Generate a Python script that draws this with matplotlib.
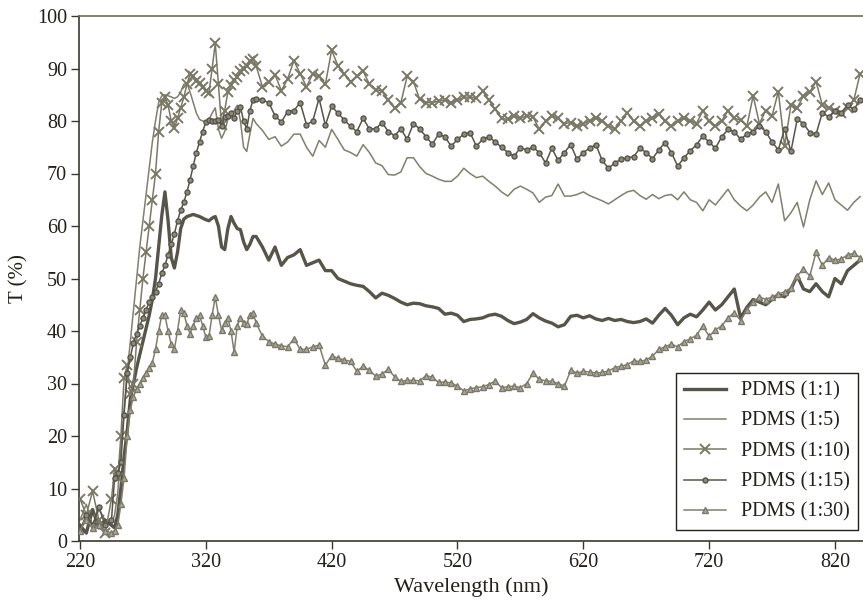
import numpy as np
import matplotlib
matplotlib.use("Agg")
import matplotlib.pyplot as plt

plt.rcParams['font.family'] = ['Liberation Serif', 'DejaVu Serif']

# wavelength grid (nm)
wavelength = np.concatenate([np.arange(220, 245, 5.0),
                             np.arange(245, 360, 2.5),
                             np.arange(360, 845, 5.0)])

t_1_1 = [3, 1.5, 6, 2.5, 4,
         3, 2.5, 5, 10, 16, 21, 27, 30, 33, 35.5,
         38, 40.5, 43, 46, 50, 56, 62, 66.5, 61, 54,
         52, 55, 59.5, 61.3, 61.8, 62, 62.2, 62, 61.8, 61.5,
         61.2, 61, 61.5, 61.8, 60, 56, 55.5, 59.5, 61.8, 60.5,
         59.5, 59.3, 57, 55.5, 56.5, 58,
         58, 56, 53.5, 56, 52.5, 54, 54.5, 55.5, 52.5, 53,
         53.5, 51.5, 51.5, 50, 49.5, 49, 48.7, 48.5, 47.5, 46.3,
         47.2, 46.8, 46.2, 45.5, 45, 45.3, 45.2, 44.8, 44.6, 44.3,
         43.2, 43.4, 43, 41.8, 42.2, 42.3, 42.5, 43, 43.2, 42.8,
         42, 41.4, 41.7, 42.2, 43.3, 42.5, 41.9, 41.5, 40.8, 41.2,
         42.8, 43, 42.5, 42.9, 42.3, 42, 42.4, 42, 42.2, 41.8,
         41.6, 41.8, 42.3, 41.5, 43, 44.3, 43, 41.2, 42.5, 43.2,
         42.7, 44, 45.5, 44, 45, 46.5, 48, 42.5, 44.5, 46,
         45.5, 45, 46, 47, 46.5, 48, 50.5, 48, 47.5, 49,
         47.5, 46.5, 50, 49, 51.5, 52.5, 53.5]

t_1_5 = [4, 7, 3, 6, 4,
         3, 5, 9, 18, 25, 32, 38, 44, 50, 56,
         61, 66, 71, 76, 80, 83.5, 84.8, 85, 84.8, 84.6,
         84.3, 84.6, 85.5, 87, 87.2, 85.5, 83.5, 81.5, 80.3, 80,
         79.8, 80.3, 81.5, 82.5, 78.5, 76.7, 78, 80.3, 80.8, 82,
         83, 80, 75, 74.2, 77.5, 80.5,
         79.5, 78.2, 76.5, 77, 75.2, 76, 77.5, 77.5, 75, 73.3,
         76.3, 75, 78.4, 76.5, 74.5, 74, 73.3, 75.5, 74, 72,
         71.5, 69.8, 69.7, 70.3, 73, 73, 71.3, 70, 69.5, 68.9,
         68.5, 68.5, 69.5, 71, 70, 69.2, 69.5, 68.5, 67.6, 66.5,
         65.7, 67, 67.6, 67, 66.3, 64.5, 65.5, 65.8, 68, 65.7,
         65.7, 66, 66.5, 65.8, 65.3, 64.8, 64.2, 65, 65.8, 66.5,
         66.8, 65.8, 65.1, 66, 65.2, 65.8, 66, 65, 66.5, 65,
         64.5, 62.9, 65, 64, 65.5, 67, 65, 63.8, 62.9, 64,
         65.5, 66.5, 64.5, 68, 61, 62.5, 64.5, 59.8, 65, 68.6,
         66, 68.2, 65, 64, 63, 64.5, 65.6]

t_1_10 = [8, 5, 9.5, 4, 1.5,
          8, 13.8, 12, 20, 31, 33.5, 28, 30, 38, 44,
          50, 55, 60, 65, 70, 78, 83.5, 84.5, 83, 80,
          78.7, 80.5, 82.5, 84.5, 87, 89, 88.5, 87.7, 87.3, 86.5,
          85.7, 85.4, 90, 94.8, 87, 79.2, 82, 85.5, 86.8, 87.8,
          88.3, 89.5, 90, 90.5, 91.5, 91.8,
          90.5, 86.5, 87.5, 88.8, 85.8, 88, 91.5, 89, 86.5, 89,
          88.5, 87, 93.5, 90.5, 89, 87.5, 88.5, 89.5, 87, 86,
          85.7, 84, 82.5, 83.5, 88.5, 87.5, 84.1, 83.5, 83.5, 83.8,
          84, 83.5, 84, 84.5, 84.6, 84.3, 85.7, 84, 82.2, 80.5,
          80.3, 81, 80.5, 81, 80.8, 78.4, 80, 81, 80.5, 79.5,
          79.7, 79, 79.5, 80, 80.6, 80, 79, 78.5, 80, 81.6,
          80, 79, 80, 80.5, 81.3, 80, 79, 80, 80.5, 80,
          79.5, 82, 80, 79, 80, 82, 80.5, 80.2, 79, 84.8,
          79.5, 82, 81, 85.6, 75.2, 83, 82.5, 84.8, 85.5, 87.5,
          83, 82.5, 82, 81.5, 82.5, 84, 89]

t_1_15 = [2, 5, 3, 6.5, 3,
          4, 12, 13, 15, 24, 32, 35, 37.8, 39.5, 41,
          42.5, 44, 45.5, 46.5, 47.5, 49, 51, 52.5, 54.5, 56.5,
          58.5, 61, 63, 64.5, 66.5, 68.8, 71.5, 74, 76, 78,
          79.8, 80.2, 80, 80, 80.2, 79, 80.8, 81, 81.5, 80.5,
          82, 82.7, 80, 78.5, 82, 84,
          84.2, 84, 83.5, 81, 79.8, 81.8, 82, 83.5, 79.3, 80,
          84.3, 79.2, 82.8, 81.5, 80.2, 79, 78, 80.5, 78.5, 78.5,
          79.7, 78, 77.2, 78.5, 76.5, 79.5, 78.5, 77, 75.6, 77.5,
          77, 75.2, 76.5, 77.5, 77.8, 75.2, 76.5, 77, 76, 75,
          74, 73.3, 74.9, 74.5, 75, 74, 72, 74.8, 72.5, 74,
          75.5, 72.7, 74, 74.8, 75.5, 72.5, 71, 72, 72.7, 73,
          73.2, 74.8, 74, 72.8, 74.5, 75.9, 74, 71.4, 73, 74.3,
          75.5, 77.1, 76, 74.8, 77, 78.4, 78, 76.5, 77.5, 78,
          79, 78, 76, 74.5, 78.5, 74.2, 80.3, 79.5, 77.8, 77.5,
          81.6, 80.8, 82, 81.6, 83, 82.2, 84]

t_1_30 = [2, 4, 2.5, 3, 2,
          1.5, 2, 3, 7, 12, 20, 25, 27.5, 29, 30,
          31, 32, 33, 34, 36.5, 40, 43, 43, 40, 37.5,
          36.5, 40, 44, 43.5, 41, 39.5, 41, 42.5, 43, 41,
          38.8, 39, 43, 46.5, 43, 40.2, 41.5, 42.5, 40, 36,
          41, 42.5, 41.5, 41.3, 43, 43.5,
          41.5, 39, 38, 37.5, 37.2, 37, 38.5, 36.5, 36.5, 37,
          37.3, 33.5, 35.3, 34.8, 34.5, 34.2, 32.3, 33.3, 32.5, 31.4,
          31.8, 32.7, 31.3, 30.4, 30.6, 30.6, 30.5, 31.5, 31.2, 30.2,
          30.3, 30.1, 29.5, 28.6, 29, 29.2, 29.4, 29.8, 30.5, 29.2,
          29.4, 29.5, 29.2, 30, 32, 30.8, 30.5, 30.4, 30, 29.5,
          32.5, 32, 32.3, 32.2, 32, 32.1, 32.4, 33, 33.3, 33.6,
          34.3, 34.2, 34.5, 35.2, 36.5, 37, 37.5, 37, 38, 38.5,
          39.2, 41, 39, 40.2, 41, 42.5, 43.5, 42, 44, 45.5,
          46.5, 46, 46.5, 47, 47.5, 48.2, 50.5, 51.8, 50.5, 55,
          52.5, 54, 53.5, 53.7, 54.5, 54.8, 54]

labels = ["PDMS (1:1)", "PDMS (1:5)", "PDMS (1:10)", "PDMS (1:15)", "PDMS (1:30)"]
x_ticks = [220, 320, 420, 520, 620, 720, 820]
y_ticks = list(range(0, 101, 10))

dark = '#57554a'
light = '#817f6d'
axis_col = '#3b392e'
text_col = '#231f1a'

fig = plt.figure(figsize=(8.63, 6.08), dpi=100)
ax = fig.add_axes([79 / 863, 1 - 541 / 608, 784 / 863, 525 / 608])

ax.plot(wavelength, t_1_1, color=dark, lw=2.4, label=labels[0], zorder=3)
ax.plot(wavelength, t_1_5, color=light, lw=1.1, label=labels[1], zorder=2)
ax.plot(wavelength, t_1_10, color='#7a7866', lw=1.1, marker='x', ms=7.5, mew=1.4,
        label=labels[2], zorder=4)
ax.plot(wavelength, t_1_15, color=dark, lw=1.1, marker='o', ms=3.6, mew=1.0,
        mfc='#8c8a7a', mec=dark, label=labels[3], zorder=5)
ax.plot(wavelength, t_1_30, color=light, lw=1.1, marker='^', ms=4.8, mew=1.0,
        mfc='#a9a795', mec='#7b796a', label=labels[4], zorder=6)

ax.set_xlim(219.2, 842.3)
ax.set_ylim(0, 100)
ax.set_xticks(x_ticks)
ax.set_yticks(y_ticks)

for s in ['left', 'bottom', 'top']:
    ax.spines[s].set_color(axis_col)
    ax.spines[s].set_linewidth(1.2)
ax.spines['top'].set_color('#6f6d5d')
ax.spines['right'].set_visible(False)

ax.tick_params(axis='both', direction='out', length=5.5, width=1.0,
               color=axis_col, labelsize=14.5, labelcolor=text_col, pad=3)
ax.tick_params(top=False, right=False)

ax.set_xlabel("Wavelength (nm)", fontsize=16, color=text_col, labelpad=4)
ax.set_ylabel("T (%)", fontsize=15, color=text_col, labelpad=6)

leg = ax.legend(loc='lower right', bbox_to_anchor=(0.993, 0.021), borderaxespad=0,
                fontsize=14.5, frameon=True, fancybox=False, framealpha=1,
                edgecolor=text_col, handlelength=2.1, labelspacing=0.55,
                borderpad=0.4, handletextpad=0.7)
leg.get_frame().set_linewidth(1.0)
for t in leg.get_texts():
    t.set_color(text_col)

fig.savefig("out.png", dpi=100)
